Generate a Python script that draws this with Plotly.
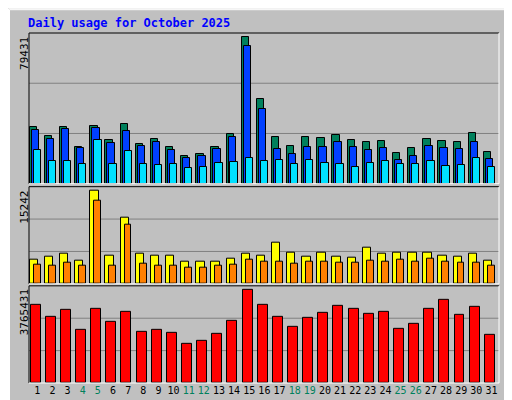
import plotly.graph_objects as go
from plotly.subplots import make_subplots

days = list(range(1, 32))
weekend_days = [4, 5, 11, 12, 18, 19, 25, 26]

hits = [30908, 26057, 30908, 20127, 31448, 23900, 32526, 21744, 24440, 20127, 15275,
        16353, 20127, 27135, 79431, 46004, 25518, 20666, 25518, 24979, 26596, 23900,
        22822, 23361, 16892, 19587, 24440, 23361, 22822, 27674, 17431]
files = [29291, 24440, 29830, 19587, 30370, 22283, 28752, 20666, 22822, 18509, 14196,
         15275, 19048, 25518, 74579, 40612, 19048, 16353, 20127, 20127, 22822, 20127,
         18509, 19587, 13118, 15275, 20666, 19587, 19048, 22822, 13657]
pages = [18509, 12579, 12579, 10962, 23900, 10423, 17970, 10423, 9884, 10962, 8266,
         8805, 11501, 12040, 14196, 12579, 13118, 10962, 13118, 11501, 10423, 8805,
         11501, 12579, 10423, 10962, 12579, 9344, 9884, 14196, 8805]
visits = [4017, 4512, 5008, 3852, 15242, 4678, 10786, 5008, 4678, 4678, 3687,
          3687, 3687, 4182, 5008, 4678, 6824, 5173, 4512, 5173, 4512, 4347,
          5998, 5008, 5173, 5173, 5173, 4678, 4512, 5008, 3852]
sites = [3192, 3027, 3522, 3027, 13592, 3027, 9630, 3357, 3027, 3027, 2696,
         2696, 3027, 3192, 4017, 3687, 3687, 3357, 3687, 3687, 3522, 3522,
         3852, 3687, 4017, 3687, 4182, 3687, 3522, 3522, 3027]
kbytes = [3188000, 2693000, 2982000, 2157000, 3023000, 2487000, 2900000, 2075000,
          2157000, 2034000, 1580000, 1704000, 1993000, 2528000, 3765431, 3188000,
          2693000, 2281000, 2652000, 2858000, 3147000, 3023000, 2817000, 2900000,
          2199000, 2405000, 3023000, 3353000, 2776000, 3106000, 1951000]

BG = '#C0C0C0'
FONT = 'DejaVu Sans Mono'

fig = make_subplots(rows=3, cols=1, shared_xaxes=True, vertical_spacing=0.0)

def add_bars(vals, row, color, offset, width):
    fig.add_trace(go.Bar(x=days, y=vals, marker=dict(color=color, line=dict(color='black', width=1)),
                         offset=offset, width=width, showlegend=False, hoverinfo='skip'), row=row, col=1)

add_bars(hits, 1, '#00805C', -0.5, 0.48)
add_bars(files, 1, '#0040FF', -0.37, 0.48)
add_bars(pages, 1, '#00E0FF', -0.24, 0.48)
add_bars(visits, 2, '#FFFF00', -0.5, 0.55)
add_bars(sites, 2, '#FF8000', -0.24, 0.46)
add_bars(kbytes, 3, '#FF0000', -0.44, 0.66)

# pixel layout
L, R, T, B = 21, 491, 25, 378
H = B - T
panels = [(25, 177, max(hits) * 152 / 147.7),
          (180, 278, max(visits) * 98 / 93.7),
          (280, 378, max(kbytes) * 98 / 93.7)]

fig.update_layout(
    width=512, height=400, margin=dict(l=L, r=512 - R, t=T, b=400 - B),
    paper_bgcolor=BG, plot_bgcolor=BG, barmode='overlay', bargap=0,
    font=dict(family=FONT, size=12, color='black'),
)

ticktext = [f"<span style='color:#00805C'>{d}</span>" if d in weekend_days else str(d) for d in days]
for i, (top, bot, rng) in enumerate(panels, start=1):
    dom = [(B - bot) / H, (B - top) / H]
    yname = 'yaxis' if i == 1 else f'yaxis{i}'
    fig.layout[yname].update(domain=dom, range=[0, rng], showticklabels=False, showgrid=False,
                             zeroline=False, fixedrange=True)
    xname = 'xaxis' if i == 1 else f'xaxis{i}'
    fig.layout[xname].update(range=[0.45, 31.5], showgrid=False, zeroline=False,
                             showticklabels=(i == 3), tickvals=days, ticktext=ticktext,
                             ticks='', tickangle=0, tickfont=dict(size=10, family=FONT))
    yref = 'y domain' if i == 1 else f'y{i} domain'
    xref = 'x domain' if i == 1 else f'x{i} domain'
    for f in (1 / 3, 2 / 3):
        fig.add_shape(type='line', xref=xref, yref=yref, x0=0, x1=1, y0=f, y1=f,
                      line=dict(color='#808080', width=1), layer='below')
    fig.add_shape(type='line', xref=xref, yref=yref, x0=0, x1=1, y0=1, y1=1, line=dict(color='black', width=1))
    fig.add_shape(type='line', xref=xref, yref=yref, x0=0, x1=0, y0=0, y1=1, line=dict(color='black', width=1))
    fig.add_shape(type='line', xref=xref, yref=yref, x0=0, x1=1, y0=0, y1=0, line=dict(color='white', width=1))
    fig.add_shape(type='line', xref=xref, yref=yref, x0=1, x1=1, y0=0, y1=1, line=dict(color='white', width=1))

# max value labels on the left
for (top, bot, rng), val in zip(panels, [max(hits), max(visits), max(kbytes)]):
    fig.add_annotation(xref='paper', yref='paper', x=(8 - L) / (R - L), y=(B - top - 2) / H,
                       text=str(val), textangle=-90, showarrow=False, xanchor='left', yanchor='top',
                       font=dict(size=11, family=FONT))

def rlabel(text, top):
    fig.add_annotation(xref='paper', yref='paper', x=(494 - L) / (R - L), y=(B - top) / H,
                       text=text, textangle=-90, showarrow=False, xanchor='left', yanchor='top',
                       font=dict(size=11, family=FONT))

rlabel("<span style='color:#00E0FF'>Pages</span> / <span style='color:#0040FF'>Files</span>"
       " / <span style='color:#00805C'>Hits</span>", 27)
rlabel("<span style='color:#FF8000'>Sites</span> / <span style='color:#FFFF00'>Visits</span>", 197)
rlabel("<span style='color:#FF0000'>KBytes</span>", 335)

fig.add_annotation(xref='paper', yref='paper', x=(18 - L) / (R - L), y=(B - 15) / H,
                   text='<b>Daily usage for October 2025</b>', showarrow=False,
                   xanchor='left', yanchor='middle', font=dict(size=12, color='#0000FF', family=FONT))

# outer bevel
def px(x):
    return (x - L) / (R - L)

def py(y):
    return (B - y) / H

for x0, y0, x1, y1, c in [(0, 0, 511, 0, 'white'), (0, 0, 0, 399, 'white'),
                          (1, 1, 510, 1, 'white'), (1, 1, 1, 398, 'white'),
                          (0, 399, 511, 399, 'black'), (511, 0, 511, 399, 'black'),
                          (1, 398, 510, 398, '#808080'), (510, 1, 510, 398, '#808080')]:
    fig.add_shape(type='line', xref='paper', yref='paper', x0=px(x0 + 0.5), x1=px(x1 + 0.5),
                  y0=py(y0 + 0.5), y1=py(y1 + 0.5), line=dict(color=c, width=1))

fig.write_html("out.html")
